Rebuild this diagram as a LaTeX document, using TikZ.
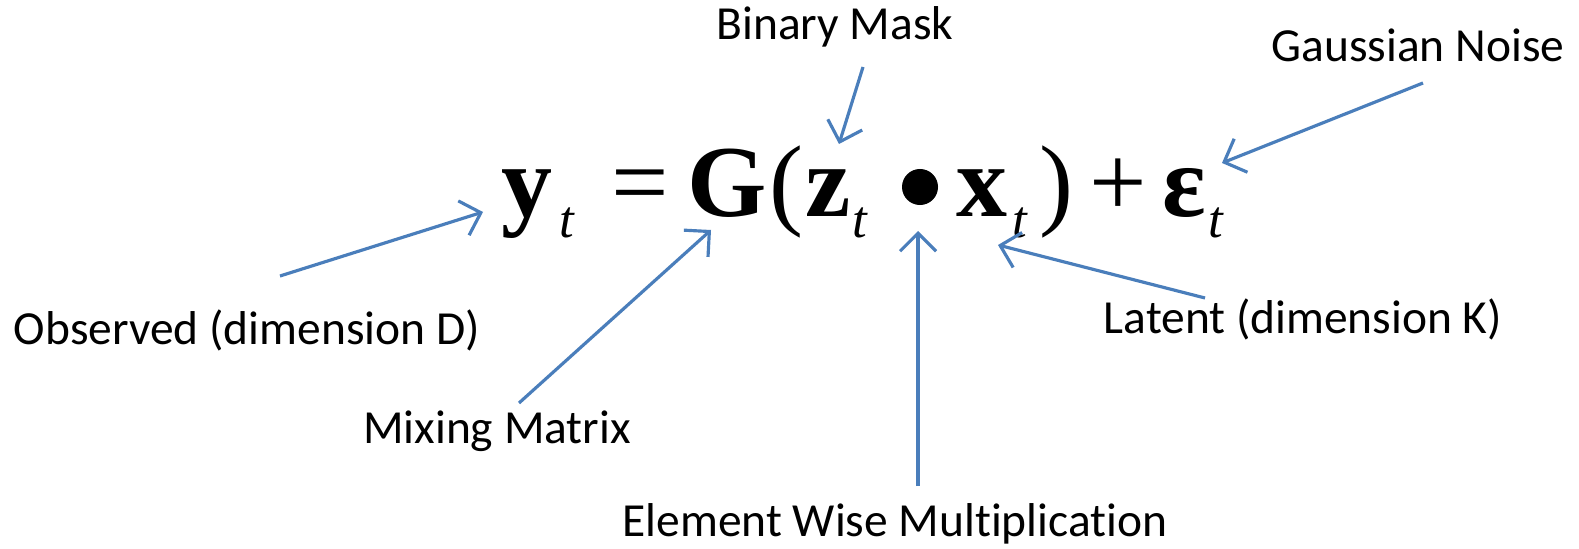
\documentclass[tikz,border=0pt]{standalone}
\usepackage{fontspec}
\setmainfont{Liberation Serif}
\newfontfamily\calibri[Ligatures=NoCommon]{Carlito}
\usetikzlibrary{arrows.meta}
\definecolor{pointer}{RGB}{74,126,187}

\begin{document}
\begin{tikzpicture}[x=0.01cm,y=-0.01cm,
  lbl/.style={font=\calibri\fontsize{13.5}{16}\selectfont},
  big/.style={anchor=base,inner sep=0,font=\fontsize{29}{34}\selectfont\bfseries},
  sym/.style={anchor=base,inner sep=0,font=\fontsize{29}{34}\selectfont},
  sub/.style={anchor=base,inner sep=0,font=\fontsize{15}{18}\selectfont\itshape},
  ptr/.style={-{Straight Barb[length=1.8mm,width=3.6mm]},pointer,line width=0.9pt}]
\useasboundingbox (0,0) rectangle (1579,549);
\node[big] (y) at (527,217) {y};
\node[sub] (ty) at (567,238) {t};
\node[sym] (eq) at (640,217) {=};
\node[big] (G) at (727,217) {G};
\node[sym] (lp) at (786,217) {(};
\node[big] (z) at (828,217) {z};
\node[sub] (tz) at (860,238) {t};
\node[circle,fill,inner sep=0,minimum size=0.36cm] (dot) at (920,187) {};
\node[big] (x) at (982,217) {x};
\node[sub] (tx) at (1020,238) {t};
\node[sym] (rp) at (1056,217) {)};
\node[sym] (plus) at (1118,217) {+};
\node[big] (eps) at (1184,217) {ε};
\node[sub] (te) at (1216,238) {t};
\node[lbl] (mask) at (835,27) {Binary Mask};
\node[lbl] (noise) at (1418,45) {Gaussian Noise};
\node[lbl] (obs) at (247,330) {Observed (dimension D)};
\node[lbl] (lat) at (1303,319) {Latent (dimension K)};
\node[lbl] (mix) at (497,431) {Mixing Matrix};
\node[lbl] (elem) at (895,524) {Element Wise Multiplication};
\coordinate (obs-s) at (280,276); \coordinate (obs-e) at (483,212);
\coordinate (mix-s) at (519,403); \coordinate (mix-e) at (711,230);
\coordinate (mask-s) at (863,67); \coordinate (mask-e) at (839,144);
\coordinate (elem-s) at (918,486); \coordinate (elem-e) at (918,231);
\coordinate (lat-s) at (1205,298); \coordinate (lat-e) at (998,245);
\coordinate (noise-s) at (1423,83); \coordinate (noise-e) at (1222,163);
\foreach \n in {obs,mix,mask,elem,lat,noise} \draw[ptr] (\n-s) -- (\n-e);
\end{tikzpicture}
\end{document}
